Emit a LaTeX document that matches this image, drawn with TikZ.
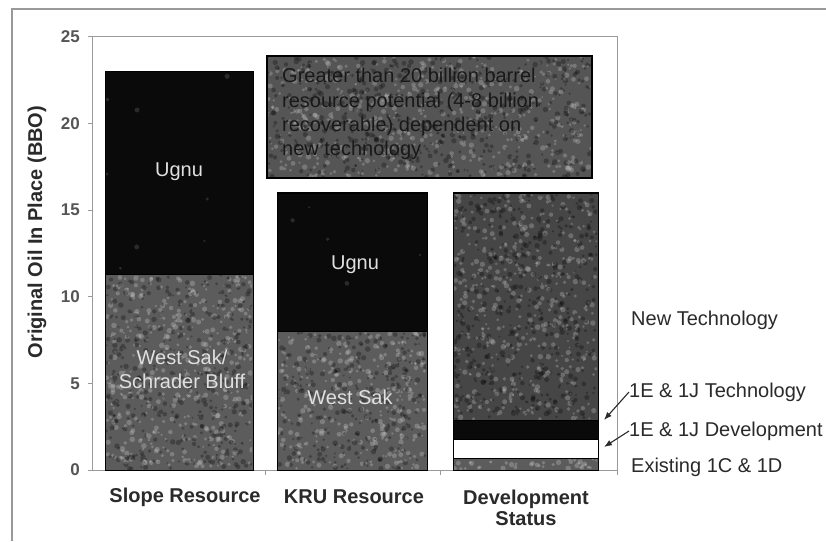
\documentclass[tikz,border=0pt]{standalone}
\usepackage{fontspec}
\setmainfont{Liberation Sans}
\usetikzlibrary{arrows.meta}

\definecolor{ugnucol}{HTML}{0A0A0A}
\definecolor{sakcol}{HTML}{5C5C5C}
\definecolor{newtechcol}{HTML}{464646}
\definecolor{boxcol}{HTML}{555555}
\definecolor{framecol}{HTML}{9A9A9A}
\definecolor{textdark}{HTML}{2A2A2A}

% soft grainy mottling inside a rectangle: x1,y1,x2,y2,colour,count
\newcommand\speckle[6]{%
  \begin{scope}
    \clip (#1,#2) rectangle (#3,#4);
    \foreach \k in {1,...,#6}{
      \pgfmathsetmacro\px{#1+rnd*(#3-#1)}
      \pgfmathsetmacro\py{#2+rnd*(#4-#2)}
      \pgfmathsetmacro\pr{1.0+rnd*1.8}
      \fill[#5, opacity=0.28] (\px,\py) circle (\pr pt);
    }
  \end{scope}}

\begin{document}
\begin{tikzpicture}[x=1pt,y=-1pt,
  every node/.style={inner sep=0pt},
  seg/.style={draw=black, line width=0.8pt, anchor=north west},
  barlabel/.style={text=white!88!black, font=\fontsize{20}{24}\selectfont, align=center},
  catlabel/.style={font=\bfseries\fontsize{20}{22}\selectfont, text=textdark, align=center},
  sidelabel/.style={font=\fontsize{20}{22}\selectfont, text=textdark, anchor=west},
  ticklabel/.style={font=\bfseries\fontsize{17}{20}\selectfont, text=textdark!80, anchor=east},
  frameline/.style={draw=framecol, line width=1pt},
  pointer/.style={draw=textdark, line width=1.1pt, -{Latex[length=8pt,width=6pt]}}]

\pgfmathsetseed{12}
\useasboundingbox (0,0) rectangle (826,541);
\fill[white] (0,0) rectangle (826,541);

% outer panel edges
\draw[draw=gray!80, line width=2pt] (12,541) -- (12,9) -- (826,9);

% plot frame and axes
\draw[frameline] (88,36) -- (617,36) -- (617,470);
\draw[frameline] (92,36) -- (92,470);
\draw[frameline] (88,470) -- (617,470);
\foreach \v in {0,5,...,25}{
  \draw[frameline] (88,{470-17.33*\v}) -- (92,{470-17.33*\v});
  \node[ticklabel] (tick\v) at (80,{470-17.33*\v}) {\v};
}
\foreach \xx in {265,440,617}{
  \draw[frameline] (\xx,470) -- (\xx,475);
}

\node[font=\bfseries\fontsize{20}{22}\selectfont, text=textdark, rotate=90] (ytitle) at (37,232) {Original Oil In Place (BBO)};

% Slope Resource bar
\node[seg, fill=sakcol, minimum width=148pt, minimum height=195.8pt] (slopeSak) at (105,274.2) {};
\node[seg, fill=ugnucol, minimum width=148pt, minimum height=202.8pt] (slopeUgnu) at (105,71.4) {};
\speckle{106}{275}{252}{469}{white!70!gray}{420}
\speckle{106}{275}{252}{469}{black}{420}
\speckle{106}{72}{252}{273}{gray}{8}
\draw[black, line width=0.8pt] (105,71.4) rectangle (253,470);
\draw[black, line width=0.8pt] (105,274.2) -- (253,274.2);
\node[barlabel] (slopeUgnuTxt) at (179,172) {Ugnu};
\node[barlabel] (slopeSakTxt) at (182,369) {West Sak/\\Schrader Bluff};

% KRU Resource bar
\node[seg, fill=sakcol, minimum width=150pt, minimum height=138.6pt] (kruSak) at (277,331.4) {};
\node[seg, fill=ugnucol, minimum width=150pt, minimum height=138.7pt] (kruUgnu) at (277,192.7) {};
\speckle{278}{332}{426}{469}{white!70!gray}{300}
\speckle{278}{332}{426}{469}{black}{300}
\speckle{278}{194}{426}{330}{gray}{5}
\draw[black, line width=0.8pt] (277,192.7) rectangle (427,470);
\draw[black, line width=0.8pt] (277,331.4) -- (427,331.4);
\node[barlabel] (kruUgnuTxt) at (355,265) {Ugnu};
\node[barlabel] (kruSakTxt) at (350,397) {West Sak};

% Development Status bar
\node[seg, fill=newtechcol, minimum width=145pt, minimum height=227pt] (devNew) at (453,192.7) {};
\node[seg, fill=ugnucol, minimum width=145pt, minimum height=19.1pt] (devTech) at (453,419.7) {};
\node[seg, fill=white, minimum width=145pt, minimum height=19.1pt] (devDev) at (453,438.8) {};
\node[seg, fill=sakcol, minimum width=145pt, minimum height=12.1pt] (devExist) at (453,457.9) {};
\speckle{454}{194}{597}{419}{white!65!gray}{460}
\speckle{454}{194}{597}{419}{black}{460}
\speckle{454}{459}{597}{469}{white!70!gray}{40}
\draw[black, line width=0.8pt] (453,192.7) rectangle (598,470);

% annotation box
\node[seg, fill=boxcol, line width=1.2pt, minimum width=325pt, minimum height=122pt] (noteBox) at (267,56) {};
\speckle{268}{57}{591}{177}{white!65!gray}{540}
\speckle{268}{57}{591}{177}{black}{540}
\draw[black, line width=1.4pt] (267,56) rectangle (592,178);
\node[anchor=west, align=left, text=black!90, font=\fontsize{20}{24.3}\selectfont] (noteTxt) at (282,114)
  {Greater than 20 billion barrel\\resource potential (4-8 billion\\recoverable) dependent on\\new technology};

% category labels
\node[catlabel] (catSlope) at (185,497) {Slope Resource};
\node[catlabel] (catKRU) at (354,497) {KRU Resource};
\node[catlabel, font=\bfseries\fontsize{20}{21}\selectfont] (catDev) at (526,508) {Development\\Status};

% side labels
\node[sidelabel] (lblNew) at (631,320) {New Technology};
\node[sidelabel] (lblTech) at (629,392) {1E \& 1J Technology};
\node[sidelabel] (lblDev) at (629,431) {1E \& 1J Development};
\node[sidelabel] (lblExist) at (631,467) {Existing 1C \& 1D};

\coordinate (tipTech) at (604,420);
\coordinate (tipDev) at (604,447);
\draw[pointer] (lblTech.west) -- (tipTech);
\draw[pointer] (lblDev.west) -- (tipDev);

\end{tikzpicture}
\end{document}
